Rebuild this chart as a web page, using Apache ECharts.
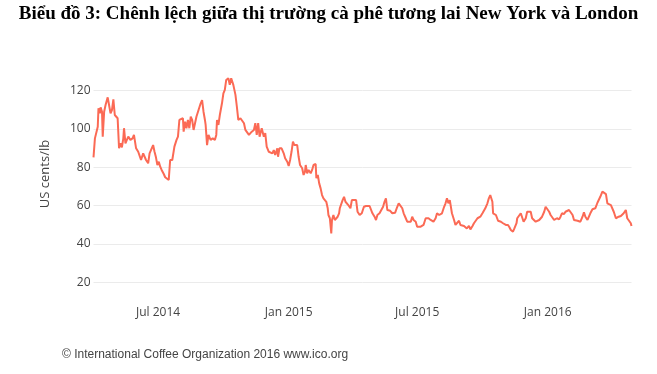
<!DOCTYPE html>
<html>
<head>
<meta charset="utf-8">
<script src="https://cdn.jsdelivr.net/npm/echarts@6/dist/echarts.min.js"></script>
<style>
html,body{margin:0;padding:0;background:#fff;}
#chart{width:657px;height:374px;}
</style>
</head>
<body>
<div id="chart"></div>
<script>
// Title and source
const chartTitle = 'Biểu đồ 3: Chênh lệch giữa thị trường cà phê tương lai New York và London';
const sourceText = '© International Coffee Organization 2016 www.ico.org';
const yAxisTitle = 'US cents/lb';

// Dates: days since 2014-04-01
const baseDate = [2014, 3, 1];
const dayOffsets = [
0,2,6,7,9,10,12,13,15,17,20,22,24,26,28,30,32,34,36,38,40,42,43,45,47,49,52,55,57,60,63,65,67,70,72,74,77,79,81,84,86,88,90,92,94,96,99,101,103,106,108,111,114,117,119,121,
123,126,127,129,131,133,135,137,139,141,142,145,148,151,153,155,157,158,160,162,165,168,171,173,174,176,178,181,183,185,187,189,190,192,194,196,197,200,202,204,205,207,209,212,214,216,219,221,223,226,228,230,232,234,236,237,240,242,
244,247,249,252,254,256,259,260,262,265,268,270,273,275,277,279,281,283,284,287,289,291,294,296,298,299,301,303,306,308,310,313,314,316,318,320,322,324,326,328,330,331,333,335,336,338,340,342,344,346,347,349,351,353,355,357,359,361,362,364,367,370,372,375,
378,381,384,386,389,391,393,396,398,400,403,405,408,410,412,414,416,418,421,423,425,428,430,432,435,437,440,442,444,447,449,451,454,456,458,461,463,465,468,470,472,475,477,479,482,484,487,489,491,494,496,498,500,502,
505,508,510,512,515,517,519,522,524,526,529,531,534,536,538,541,543,545,548,550,552,555,557,559,562,563,565,567,570,572,574,577,579,581,584,586,588,591,593,596,597,599,602,604,606,609,611,613,616,618,620,623,
625,628,630,632,635,637,639,642,644,646,649,651,653,656,658,660,663,665,667,670,672,675,677,679,682,684,686,689,691,693,696,698,700,703,705,707,710,712,714,717,719,722,724,726,729,731,733,736,738,740,743,745,747,750,752,754,757,758
];
// Spread (US cents/lb)
const spreadValues = [
85.2,95.1,101.2,110.8,108.2,111.3,109,96,109,112.5,116.5,117.2,108.2,109.9,115.5,107.3,106.4,105.6,89.9,92.5,90.4,95.1,100.4,92.5,94.3,96,94.3,95.1,96.9,89.9,88.1,89,83.8,87.3,86.4,83.8,82.1,87.3,87.3,91.6,88.1,85.2,81.2,82.9,80.3,78.6,76.5,74.8,74.3,73.4,83.8,83.8,90.8,94.3,96,104.7,
105.1,105.6,98.6,103.8,100.4,104.7,100.4,106.4,104.7,99.5,101.2,106.4,109.9,113.4,115.1,109,104.7,102.1,91.6,96.9,94.3,95.1,94.3,96.9,104.7,102.1,107.3,113.4,118.6,120.4,125.6,124.7,126.5,123,126.5,127.3,123,117.8,111.6,104.7,103.8,105.6,104.7,103,99.5,98.6,96.9,96,98.6,99.5,103,96.9,103,96,96.9,100.4,96,97.8,
90.8,88.1,89,87.3,89,86.4,89.9,85.5,89.9,89.9,87.3,84.7,82.9,80.7,83.8,88.1,93.4,91.6,92.5,91.6,85.5,81.2,79.5,76,77.7,81.2,76.9,78.6,76.9,78.6,81.2,81.7,74.3,76,71.6,69,65.5,63.8,62.9,62,58.6,55.1,53.4,45.5,52.5,55.1,52.5,51.6,54.2,56,58.6,59.4,62.9,64.6,62,62.9,60.3,61.2,58.6,62.9,62.9,62.9,56.8,55.1,
56,59.4,59.8,60.8,59.8,59.4,56,54.2,52.5,55.1,56,56.8,59.4,62,63.8,57.7,56.8,57.3,56,56,56.3,59.4,61.2,61.5,58.6,56,53.4,51.6,52.5,51.6,54.2,52.5,51.6,49,49.9,49,48.1,49.9,53.4,54.2,53.4,52.5,52.8,51.6,53.4,56,55.1,55.1,56,59.4,61.2,63.8,61.2,62.9,
56,52.5,49.9,50.8,52.1,49.9,49,49.4,49.9,48.1,49.4,47.6,49.4,50.8,50.4,53.4,52.5,54.2,56,56.8,58.6,61.2,63.8,65.5,62,56,56.8,55.1,52.1,51.6,51.6,50.8,50.8,49.9,49.9,48.7,47.3,46.4,48.1,50.8,53.4,52.8,56,55.1,51.6,53.4,56.8,56,56.8,53.4,52.5,51.6,
51.6,52.5,53.4,54.2,56.8,59.4,59.4,56.8,55.1,54.2,52.5,52.1,53.4,52.8,54.2,56,55.6,56.8,56,57.7,58.6,55.1,52.5,52.1,52.1,52.1,51.6,54.2,56.5,54.2,52.5,51.6,56,58.1,58.6,58.6,61.5,62,64.6,67.3,66.4,66,61.2,61.5,60.3,59.4,56.8,53.4,53.9,54.2,54.6,55.1,56,57.7,53.4,53.4,50.8,49.4
];
// X tick labels
const xTickDates = [[2014, 6, 1], [2015, 0, 1], [2015, 6, 1], [2016, 0, 1]];
const xTickLabels = ['Jul 2014', 'Jan 2015', 'Jul 2015', 'Jan 2016'];
// Y ticks
const yTickValues = [20, 40, 60, 80, 100, 120];

const toTime = (y, m, d) => new Date(y, m, d).getTime();
const seriesData = dayOffsets.map((d, i) => [toTime(baseDate[0], baseDate[1], baseDate[2] + d), spreadValues[i]]);
const xTickTimes = xTickDates.map(a => toTime(a[0], a[1], a[2]));
const xMin = seriesData[0][0];
const xMax = seriesData[seriesData.length - 1][0];

const chart = echarts.init(document.getElementById('chart'), null, {renderer: 'canvas'});
chart.setOption({
  animation: false,
  backgroundColor: '#ffffff',
  title: [{
    text: chartTitle,
    left: 'center',
    top: 0,
    textStyle: {fontFamily: 'Liberation Serif', fontWeight: 'bold', fontSize: 19, color: '#000'}
  }, {
    text: sourceText,
    left: 57,
    top: 344,
    textStyle: {fontFamily: 'Liberation Sans', fontWeight: 'normal', fontSize: 12, color: '#444'}
  }],
  graphic: [{
    type: 'text',
    x: 45,
    y: 174,
    rotation: Math.PI / 2,
    style: {
      text: yAxisTitle,
      align: 'center',
      verticalAlign: 'middle',
      fontFamily: 'Open Sans',
      fontSize: 13,
      fill: '#444'
    }
  }],
  grid: {left: 93.5, right: 25.5, top: 71.5, bottom: 72.6},
  xAxis: {
    type: 'value',
    min: xMin,
    max: xMax,
    axisLine: {show: false},
    axisTick: {show: false},
    splitLine: {show: false},
    axisLabel: {
      customValues: xTickTimes,
      formatter: function (val) {
        const i = xTickTimes.indexOf(val);
        return i >= 0 ? xTickLabels[i] : '';
      },
      margin: 5,
      fontFamily: 'Open Sans',
      fontSize: 12,
      color: '#444',
      hideOverlap: false,
      showMinLabel: true,
      showMaxLabel: true
    }
  },
  yAxis: {
    type: 'value',
    min: 10,
    max: 130,
    interval: 10,
    axisLine: {show: false},
    axisTick: {show: false},
    axisLabel: {
      formatter: function (v) { return yTickValues.indexOf(v) >= 0 ? String(v) : ''; },
      margin: 3,
      fontFamily: 'Open Sans',
      fontSize: 12,
      color: '#444'
    },
    splitLine: {show: true, lineStyle: {color: ['rgba(0,0,0,0)', '#ebebeb'], width: 1}}
  },
  series: [{
    type: 'line',
    data: seriesData,
    showSymbol: false,
    symbol: 'none',
    lineStyle: {color: '#fb6a55', width: 2},
    itemStyle: {color: '#fb6a55'}
  }]
});
</script>
</body>
</html>
